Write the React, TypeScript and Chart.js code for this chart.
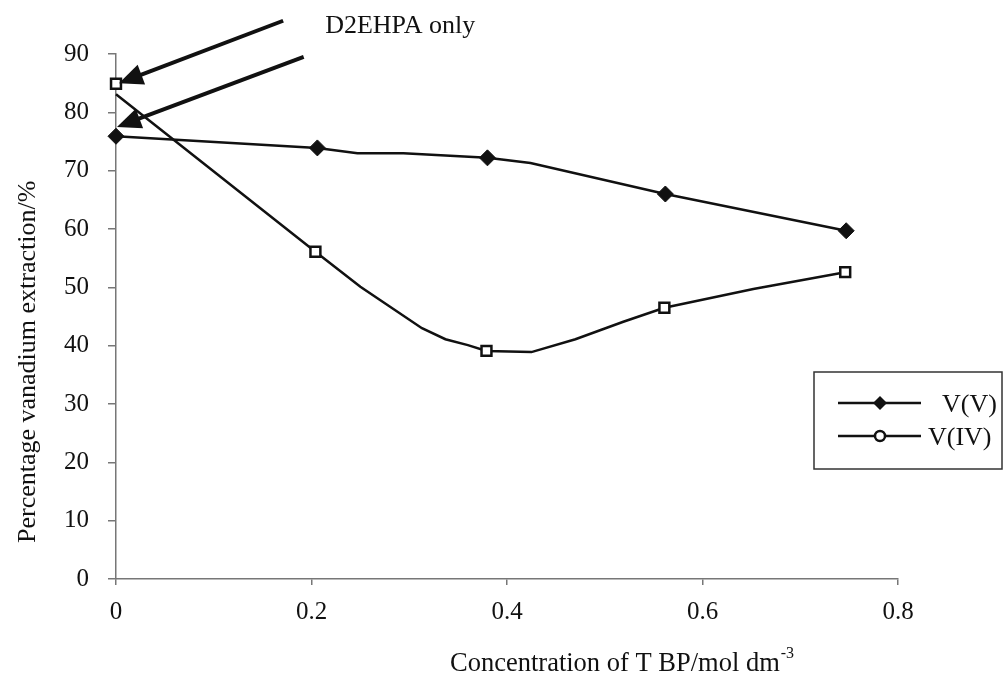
import React, { useEffect, useRef } from 'react';
import { Chart, registerables } from 'chart.js';

Chart.register(...registerables);

// ---- data ----
const seriesNames = ['V(V)', 'V(IV)'];

// V(V) measured points and its drawn (smoothed) curve
const vvMarkerX = [0, 0.206, 0.38, 0.562, 0.747];
const vvMarkerY = [75.9, 73.9, 72.2, 66.0, 59.7];
const vvLineX = [0, 0.206, 0.247, 0.294, 0.38, 0.424, 0.562, 0.747];
const vvLineY = [75.9, 73.9, 73.0, 73.0, 72.2, 71.3, 66.0, 59.7];

// V(IV) measured points and its drawn (smoothed) curve
const vivMarkerX = [0, 0.204, 0.379, 0.561, 0.746];
const vivMarkerY = [84.9, 56.1, 39.1, 46.5, 52.6];
const vivLineX = [0, 0.204, 0.25, 0.313, 0.337, 0.36, 0.379, 0.425, 0.47, 0.519, 0.561, 0.652, 0.746];
const vivLineY = [83.1, 56.1, 50.1, 43.0, 41.1, 40.1, 39.1, 38.9, 41.1, 44.1, 46.5, 49.7, 52.6];

const xTicks = [0, 0.2, 0.4, 0.6, 0.8];
const yTicks = [0, 10, 20, 30, 40, 50, 60, 70, 80, 90];

const xTitle = 'Concentration of T BP/mol dm';
const xTitleSup = '-3';
const yTitle = 'Percentage vanadium extraction/%';

// annotation: "D2EHPA only" with two arrows (data coordinates)
const noteText = 'D2EHPA only';
const noteX = 0.214;
const noteY = 93.6;
const arrowTailX = [0.171, 0.192];
const arrowTailY = [95.7, 89.5];
const arrowTipX = [0.003, 0.001];
const arrowTipY = [85.0, 77.5];

const FONT = "'Liberation Serif', 'Times New Roman', serif";

const toPts = (xs: number[], ys: number[]) => xs.map((x, i) => ({ x, y: ys[i] }));

const overlayPlugin = {
  id: 'overlay',
  afterDraw(chart: any) {
    const ctx: CanvasRenderingContext2D = chart.ctx;
    const xs = chart.scales.x;
    const ys = chart.scales.y;
    ctx.save();

    // arrows
    ctx.fillStyle = '#111';
    ctx.strokeStyle = '#111';
    for (let i = 0; i < arrowTipX.length; i++) {
      const tx = xs.getPixelForValue(arrowTipX[i]);
      const ty = ys.getPixelForValue(arrowTipY[i]);
      const sx = xs.getPixelForValue(arrowTailX[i]);
      const sy = ys.getPixelForValue(arrowTailY[i]);
      const ang = Math.atan2(ty - sy, tx - sx);
      const headLen = 24;
      const headHalf = 10.5;
      const bx = tx - headLen * Math.cos(ang);
      const by = ty - headLen * Math.sin(ang);
      ctx.lineWidth = 4;
      ctx.lineCap = 'butt';
      ctx.beginPath();
      ctx.moveTo(sx, sy);
      ctx.lineTo(bx + 2 * Math.cos(ang), by + 2 * Math.sin(ang));
      ctx.stroke();
      ctx.beginPath();
      ctx.moveTo(tx, ty);
      ctx.lineTo(bx + headHalf * Math.sin(ang), by - headHalf * Math.cos(ang));
      ctx.lineTo(bx - headHalf * Math.sin(ang), by + headHalf * Math.cos(ang));
      ctx.closePath();
      ctx.fill();
    }

    // note text
    ctx.fillStyle = '#111';
    ctx.font = `26px ${FONT}`;
    ctx.textAlign = 'left';
    ctx.textBaseline = 'alphabetic';
    ctx.fillText(noteText, xs.getPixelForValue(noteX), ys.getPixelForValue(noteY));

    // x title with superscript
    ctx.font = `26.5px ${FONT}`;
    ctx.textAlign = 'left';
    const xtX = 450;
    const xtY = 671;
    ctx.fillText(xTitle, xtX, xtY);
    const w = ctx.measureText(xTitle).width;
    ctx.font = `16px ${FONT}`;
    ctx.fillText(xTitleSup, xtX + w + 1, xtY - 13);

    // y title (rotated)
    ctx.save();
    ctx.translate(35, 543);
    ctx.rotate(-Math.PI / 2);
    ctx.font = `26px ${FONT}`;
    ctx.textAlign = 'left';
    ctx.textBaseline = 'alphabetic';
    ctx.fillText(yTitle, 0, 0);
    ctx.restore();

    // legend box
    const lx = 814, ly = 372, lw = 188, lh = 97;
    ctx.strokeStyle = '#333';
    ctx.lineWidth = 1.5;
    ctx.strokeRect(lx, ly, lw, lh);
    const rows = [403, 436];
    ctx.font = `26px ${FONT}`;
    ctx.textBaseline = 'middle';
    rows.forEach((ry, i) => {
      ctx.strokeStyle = '#111';
      ctx.lineWidth = 2.5;
      ctx.beginPath();
      ctx.moveTo(838, ry);
      ctx.lineTo(921, ry);
      ctx.stroke();
      if (i === 0) {
        ctx.fillStyle = '#111';
        ctx.beginPath();
        ctx.moveTo(880, ry - 7);
        ctx.lineTo(887, ry);
        ctx.lineTo(880, ry + 7);
        ctx.lineTo(873, ry);
        ctx.closePath();
        ctx.fill();
      } else {
        ctx.fillStyle = '#fff';
        ctx.lineWidth = 2.5;
        ctx.beginPath();
        ctx.arc(880, ry, 5, 0, Math.PI * 2);
        ctx.fill();
        ctx.stroke();
      }
      ctx.fillStyle = '#111';
      ctx.textAlign = 'left';
      ctx.fillText(seriesNames[i], i === 0 ? 942 : 928, ry + 2);
    });

    ctx.restore();
  },
};

export default function App() {
  const ref = useRef<HTMLCanvasElement | null>(null);

  useEffect(() => {
    if (!ref.current) return;
    const axisColor = '#777';
    const chart = new Chart(ref.current, {
      type: 'scatter',
      data: {
        datasets: [
          {
            label: seriesNames[0] + ' points',
            data: toPts(vvMarkerX, vvMarkerY),
            showLine: false,
            pointStyle: 'rectRot',
            pointRadius: 8,
            pointBackgroundColor: '#111',
            pointBorderColor: '#111',
            pointBorderWidth: 1,
            order: 0,
            clip: false,
          },
          {
            label: seriesNames[1] + ' points',
            data: toPts(vivMarkerX, vivMarkerY),
            showLine: false,
            pointStyle: 'rect',
            pointRadius: 7,
            pointBackgroundColor: '#fff',
            pointBorderColor: '#111',
            pointBorderWidth: 2.5,
            order: 0,
            clip: false,
          },
          {
            label: seriesNames[0],
            data: toPts(vvLineX, vvLineY),
            showLine: true,
            borderColor: '#111',
            borderWidth: 2.5,
            pointRadius: 0,
            tension: 0,
            order: 1,
            clip: false,
          },
          {
            label: seriesNames[1],
            data: toPts(vivLineX, vivLineY),
            showLine: true,
            borderColor: '#111',
            borderWidth: 2.5,
            pointRadius: 0,
            tension: 0,
            order: 1,
            clip: false,
          },
        ],
      },
      options: {
        animation: false,
        responsive: false,
        devicePixelRatio: 1,
        layout: { padding: { left: 0, right: 106, top: 54, bottom: 0 } },
        plugins: {
          legend: { display: false },
          tooltip: { enabled: false },
          title: { display: false },
        },
        scales: {
          x: {
            type: 'linear',
            min: 0,
            max: 0.8,
            afterBuildTicks: (s: any) => {
              s.ticks = xTicks.map((v) => ({ value: v }));
            },
            afterFit: (s: any) => {
              s.height = 98;
            },
            ticks: {
              callback: (v: any) => (Number(v) === 0 ? '0' : Number(v).toFixed(1)),
              color: '#111',
              font: { family: FONT, size: 25 },
              padding: 12,
              maxRotation: 0,
              autoSkip: false,
            },
            grid: {
              display: true,
              drawOnChartArea: false,
              drawTicks: true,
              tickLength: 6,
              color: axisColor,
              lineWidth: 1.5,
            },
            border: { display: true, color: axisColor, width: 1.5 },
          },
          y: {
            type: 'linear',
            min: 0,
            max: 90,
            afterBuildTicks: (s: any) => {
              s.ticks = yTicks.map((v) => ({ value: v }));
            },
            afterFit: (s: any) => {
              s.width = 116;
            },
            ticks: {
              color: '#111',
              font: { family: FONT, size: 25 },
              padding: 19,
              autoSkip: false,
            },
            grid: {
              display: true,
              drawOnChartArea: false,
              drawTicks: true,
              tickLength: 8,
              color: axisColor,
              lineWidth: 1.5,
            },
            border: { display: true, color: axisColor, width: 1.5 },
          },
        },
      },
      plugins: [overlayPlugin],
    });
    return () => chart.destroy();
  }, []);

  return (
    <div style={{ position: 'absolute', left: 0, top: 0, width: 1004, height: 677, background: '#fff' }}>
      <canvas ref={ref} width={1004} height={677} style={{ display: 'block' }} />
    </div>
  );
}
